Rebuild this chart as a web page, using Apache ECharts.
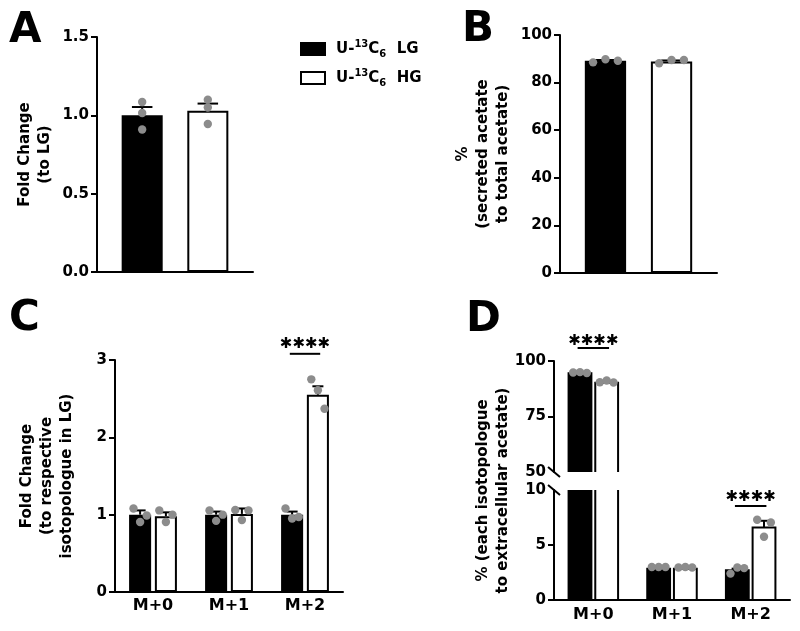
<!DOCTYPE html>
<html>
<head>
<meta charset="utf-8">
<script src="https://cdn.jsdelivr.net/npm/echarts@6.0.0/dist/echarts.min.js"></script>
<style>
  html, body { margin: 0; padding: 0; background: #fff; }
  #chart { width: 800px; height: 631px; }
</style>
</head>
<body>
<div id="chart"></div>
<script>
const FONT = 'DejaVu Sans'
const seriesNames = ['U-13C6 LG', 'U-13C6 HG']
const isotopologues = ['M+0', 'M+1', 'M+2']

// A: fold change (to LG)
const aMean = [1.0, 1.03]
const aSem = [0.053, 0.045]
const aDots = [[1.085, 1.015, 0.91], [1.1, 1.05, 0.945]]

// B: % secreted acetate to total acetate
const bMean = [89.2, 88.9]
const bSem = [0.3, 0.4]
const bDots = [[88.5, 89.8, 89.2], [88.1, 89.5, 89.5]]

// C: fold change per isotopologue
const cLG = [1.0, 1.0, 1.0]
const cLGSem = [0.055, 0.04, 0.04]
const cLGDots = [[1.08, 0.905, 0.99], [1.055, 0.92, 1.0], [1.08, 0.95, 0.97]]
const cHG = [0.98, 1.01, 2.55]
const cHGSem = [0.05, 0.07, 0.11]
const cHGDots = [[1.055, 0.905, 1.0], [1.06, 0.93, 1.055], [2.75, 2.61, 2.37]]

// D: % each isotopologue to extracellular acetate
const dLG = [94.5, 2.85, 2.7]
const dLGSem = [0.2, 0.05, 0.15]
const dLGDots = [[94.8, 95.0, 94.6], [3.0, 3.0, 3.0], [2.4, 2.95, 2.9]]
const dHG = [90.2, 2.85, 6.6]
const dHGSem = [0.4, 0.05, 0.6]
const dHGDots = [[90.4, 91.2, 90.3], [2.95, 3.0, 2.95], [7.3, 5.75, 7.05]]

// significance marks: [category, star height, underline height]
const sigC = [[2, 3.21, 3.08]]
const sigDUpper = [[0, 109, 105.9]]
const sigDLower = [[2, 9.32, 8.55]]

// bar width (share of band) and gap (share of bar width)
const layAB = { bar: 0.263, gap: 0.6 }
const layCD = { bar: 0.29, gap: 0.17 }
const spreadA = [0, 0, 0]
const spread = [-0.3, 0, 0.3]

const colors = ['#000', '#fff']
const dotColor = '#8c8c8c'

const slotX = (api, cat, slot, lay) => {
  const bw = api.size([1, 0])[0] * lay.bar
  return api.coord([cat, 0])[0] + (slot - 0.5) * bw * (1 + lay.gap)
}

const barSeries = (gi, slot, values, lay) => ({
  type: 'bar',
  name: seriesNames[slot],
  xAxisIndex: gi,
  yAxisIndex: gi,
  data: values,
  barWidth: lay.bar * 100 + '%',
  barGap: lay.gap * 100 + '%',
  itemStyle: { color: colors[slot], borderColor: '#000', borderWidth: 2 },
  z: 2,
})

// bars drawn by hand so the broken axis cuts them open
const brokenBarSeries = (gi, slot, values, lay) => ({
  type: 'custom',
  name: seriesNames[slot],
  xAxisIndex: gi,
  yAxisIndex: gi,
  clip: true,
  z: 2,
  data: values.map((v, i) => [i, v]),
  renderItem: (params, api) => {
    const cat = api.value(0)
    const bw = api.size([1, 0])[0] * lay.bar
    const x = slotX(api, cat, slot, lay)
    const top = api.coord([cat, api.value(1)])[1]
    const base = api.coord([cat, 0])[1]
    return {
      type: 'rect',
      shape: { x: x - bw / 2, y: top, width: bw, height: base - top },
      style: { fill: colors[slot], stroke: '#000', lineWidth: 2 },
    }
  },
})

const errorSeries = (gi, slot, means, sems, lay, clip) => ({
  type: 'custom',
  xAxisIndex: gi,
  yAxisIndex: gi,
  clip: clip,
  z: 3,
  data: means.map((m, i) => [i, m, sems[i]]),
  renderItem: (params, api) => {
    const cat = api.value(0)
    const x = slotX(api, cat, slot, lay)
    const y0 = api.coord([cat, api.value(1)])[1]
    const y1 = api.coord([cat, api.value(1) + api.value(2)])[1]
    const cap = api.size([1, 0])[0] * lay.bar / 4
    const st = { stroke: '#000', lineWidth: 2 }
    return {
      type: 'group',
      children: [
        { type: 'line', shape: { x1: x, y1: y0, x2: x, y2: y1 }, style: st },
        { type: 'line', shape: { x1: x - cap, y1: y1, x2: x + cap, y2: y1 }, style: st },
      ],
    }
  },
})

const dotSeries = (gi, slot, dots, sp, lay, clip) => ({
  type: 'custom',
  xAxisIndex: gi,
  yAxisIndex: gi,
  clip: clip,
  z: 4,
  data: dots.flatMap((vals, i) => vals.map((v, k) => [i, v, sp[k]])),
  renderItem: (params, api) => {
    const cat = api.value(0)
    const bw = api.size([1, 0])[0] * lay.bar
    const x = slotX(api, cat, slot, lay) + api.value(2) * bw
    const y = api.coord([cat, api.value(1)])[1]
    return { type: 'circle', shape: { cx: x, cy: y, r: 4.2 }, style: { fill: dotColor } }
  },
})

const starSeries = (gi, marks) => ({
  type: 'custom',
  xAxisIndex: gi,
  yAxisIndex: gi,
  clip: false,
  z: 5,
  data: marks,
  renderItem: (params, api) => {
    const cat = api.value(0)
    const x = api.coord([cat, 0])[0]
    const yt = api.coord([cat, api.value(1)])[1]
    const yl = api.coord([cat, api.value(2)])[1]
    const half = api.size([1, 0])[0] * 0.2
    return {
      type: 'group',
      children: [
        {
          type: 'text',
          style: {
            text: '\u2731\u2731\u2731\u2731', x: x, y: yt, align: 'center', verticalAlign: 'middle',
            fontSize: 15, fontWeight: 'bold', fontFamily: FONT, fill: '#000',
          },
        },
        { type: 'line', shape: { x1: x - half, y1: yl, x2: x + half, y2: yl }, style: { stroke: '#000', lineWidth: 2 } },
      ],
    }
  },
})

// small slashes where the y axis of D is broken
const breakSeries = (gi, values) => ({
  type: 'custom',
  xAxisIndex: gi,
  yAxisIndex: gi,
  clip: false,
  z: 5,
  data: values.map((v) => [0, v]),
  renderItem: (params, api) => {
    const x = api.coord([0, 0])[0] - api.size([1, 0])[0] / 2
    const y = api.coord([0, api.value(1)])[1]
    return {
      type: 'line',
      shape: { x1: x - 6, y1: y - 5, x2: x + 6, y2: y + 5 },
      style: { stroke: '#000', lineWidth: 2 },
    }
  },
})

const axisLine = { lineStyle: { color: '#000', width: 2 } }
const tickStyle = { length: 6, lineStyle: { color: '#000', width: 2 } }
const labelStyle = { color: '#000', fontFamily: FONT, fontWeight: 'bold', fontSize: 15, margin: 8 }
const nameStyle = { color: '#000', fontFamily: FONT, fontWeight: 'bold', fontSize: 15, lineHeight: 20 }

const xCat = (gi, data, showLabels) => ({
  type: 'category',
  gridIndex: gi,
  data: data,
  axisLine: axisLine,
  axisTick: { show: false },
  axisLabel: { show: showLabels, color: '#000', fontFamily: FONT, fontWeight: 'bold', fontSize: 16, margin: 6 },
})

const yVal = (gi, opts) => Object.assign({
  type: 'value',
  gridIndex: gi,
  axisLine: Object.assign({ show: true }, axisLine),
  axisTick: Object.assign({ show: true }, tickStyle),
  axisLabel: labelStyle,
  splitLine: { show: false },
  nameLocation: 'middle',
  nameTextStyle: nameStyle,
}, opts)

const titleStyle = { fontFamily: FONT, fontWeight: 'bold', fontSize: 42, color: '#000' }

const chart = echarts.init(document.getElementById('chart'))

chart.setOption({
  animation: false,
  backgroundColor: '#fff',
  title: [
    { text: 'A', left: 9, top: 10, padding: 0, textStyle: titleStyle },
    { text: 'B', left: 462, top: 9, padding: 0, textStyle: titleStyle },
    { text: 'C', left: 9, top: 298, padding: 0, textStyle: titleStyle },
    { text: 'D', left: 466, top: 299, padding: 0, textStyle: titleStyle },
  ],
  legend: {
    data: seriesNames,
    orient: 'vertical',
    left: 300,
    top: 39,
    padding: 0,
    icon: 'rect',
    itemWidth: 24,
    itemHeight: 12,
    itemGap: 9,
    itemStyle: { borderWidth: 2 },
    selectedMode: false,
    formatter: (n) => '{t|U-}{sup|13}{t|C}{sub|6}{t|  ' + n.split(' ')[1] + '}',
    textStyle: {
      padding: [0, 0, 0, 6],
      rich: {
        t: { fontFamily: FONT, fontWeight: 'bold', fontSize: 15, color: '#000', lineHeight: 20 },
        sup: { fontFamily: FONT, fontWeight: 'bold', fontSize: 10, color: '#000', lineHeight: 10, verticalAlign: 'top' },
        sub: { fontFamily: FONT, fontWeight: 'bold', fontSize: 10, color: '#000', lineHeight: 10, verticalAlign: 'bottom' },
      },
    },
  },
  grid: [
    { left: 97, top: 37, width: 156, height: 235 },
    { left: 560, top: 35, width: 157, height: 238 },
    { left: 115, top: 360, width: 228, height: 232 },
    { left: 554, top: 361, width: 236, height: 111 },
    { left: 554, top: 490, width: 236, height: 110 },
    { left: 554, top: 371, width: 236, height: 239 },
  ],
  xAxis: [
    xCat(0, [''], false),
    xCat(1, [''], false),
    xCat(2, isotopologues, true),
    Object.assign(xCat(3, isotopologues, false), { axisLine: { show: false } }),
    Object.assign(xCat(4, isotopologues, true), { axisLabel: { color: '#000', fontFamily: FONT, fontWeight: 'bold', fontSize: 16, margin: 7 } }),
    { type: 'value', gridIndex: 5, show: false },
  ],
  yAxis: [
    yVal(0, { min: 0, max: 1.5, interval: 0.5, name: 'Fold Change\n(to LG)', nameGap: 42,
      axisLabel: Object.assign({}, labelStyle, { formatter: (v) => v.toFixed(1) }) }),
    yVal(1, { min: 0, max: 100, interval: 20, name: '%\n(secreted acetate\nto total acetate)', nameGap: 47 }),
    yVal(2, { min: 0, max: 3, interval: 1, name: 'Fold Change\n(to respective\nisotopologue in LG)', nameGap: 38 }),
    yVal(3, { min: 50, max: 100, interval: 25,
      axisTick: Object.assign({ show: true, customValues: [75, 100] }, tickStyle) }),
    yVal(4, { min: 0, max: 10, interval: 5,
      axisTick: Object.assign({ show: true, customValues: [0, 5] }, tickStyle) }),
    {
      type: 'value', gridIndex: 5,
      axisLine: { show: false }, axisTick: { show: false }, axisLabel: { show: false }, splitLine: { show: false },
      name: '% (each isotopologue\nto extracellular acetate)', nameLocation: 'middle', nameGap: 41,
      nameTextStyle: nameStyle,
    },
  ],
  series: [
    // A
    barSeries(0, 0, [aMean[0]], layAB),
    barSeries(0, 1, [aMean[1]], layAB),
    errorSeries(0, 0, [aMean[0]], [aSem[0]], layAB, false),
    errorSeries(0, 1, [aMean[1]], [aSem[1]], layAB, false),
    dotSeries(0, 0, [aDots[0]], spreadA, layAB, false),
    dotSeries(0, 1, [aDots[1]], spreadA, layAB, false),
    // B
    barSeries(1, 0, [bMean[0]], layAB),
    barSeries(1, 1, [bMean[1]], layAB),
    errorSeries(1, 0, [bMean[0]], [bSem[0]], layAB, false),
    errorSeries(1, 1, [bMean[1]], [bSem[1]], layAB, false),
    dotSeries(1, 0, [bDots[0]], spread, layAB, false),
    dotSeries(1, 1, [bDots[1]], spread, layAB, false),
    // C
    barSeries(2, 0, cLG, layCD),
    barSeries(2, 1, cHG, layCD),
    errorSeries(2, 0, cLG, cLGSem, layCD, false),
    errorSeries(2, 1, cHG, cHGSem, layCD, false),
    dotSeries(2, 0, cLGDots, spread, layCD, false),
    dotSeries(2, 1, cHGDots, spread, layCD, false),
    starSeries(2, sigC),
    // D, both halves of the broken axis
    ...[3, 4].flatMap((gi) => [
      brokenBarSeries(gi, 0, dLG, layCD),
      brokenBarSeries(gi, 1, dHG, layCD),
      errorSeries(gi, 0, dLG, dLGSem, layCD, true),
      errorSeries(gi, 1, dHG, dHGSem, layCD, true),
      dotSeries(gi, 0, dLGDots, spread, layCD, true),
      dotSeries(gi, 1, dHGDots, spread, layCD, true),
    ]),
    starSeries(3, sigDUpper),
    starSeries(4, sigDLower),
    breakSeries(3, [50]),
    breakSeries(4, [10]),
  ],
})
</script>
</body>
</html>
